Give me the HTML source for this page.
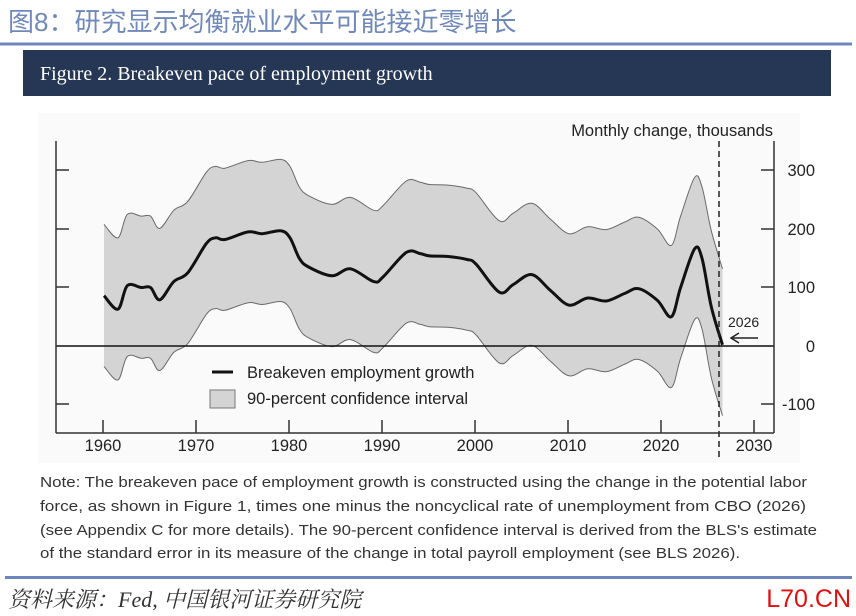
<!DOCTYPE html>
<html><head><meta charset="utf-8"><style>
html,body{margin:0;padding:0;background:#fff;}
body{width:856px;height:616px;overflow:hidden;position:relative;}
</style></head><body>
<svg id="s" width="856" height="616" viewBox="0 0 856 616" xmlns="http://www.w3.org/2000/svg" style="position:absolute;left:0;top:0">
<text x="8" y="31" font-family="'Liberation Sans','Noto Sans CJK SC',sans-serif" font-size="26" fill="#7089bb">图8：研究显示均衡就业水平可能接近零增长</text>
<rect x="0" y="42.5" width="852" height="3" fill="#6d86bd"/>
<rect x="23" y="50" width="808" height="46" fill="#253754"/>
<text x="40" y="80" font-family="'Liberation Serif',serif" font-size="20" fill="#fff">Figure 2. Breakeven pace of employment growth</text>
<rect x="38" y="113" width="762" height="350" fill="#fafafa"/>
<path id="band" fill="#d4d4d4" stroke="none"/>
<path id="up" fill="none" stroke="#6a6a6a" stroke-width="1"/>
<path id="lo" fill="none" stroke="#6a6a6a" stroke-width="1"/>
<line x1="56" y1="346" x2="774" y2="346" stroke="#111" stroke-width="1.5"/>
<path id="mid" fill="none" stroke="#111" stroke-width="3"/>
<line x1="719" y1="141" x2="719" y2="458" stroke="#222" stroke-width="1.5" stroke-dasharray="6,4"/>
<g stroke="#333" stroke-width="1.5">
<line x1="56" y1="141" x2="56" y2="433"/>
<line x1="774" y1="141" x2="774" y2="433"/>
<line x1="56" y1="433" x2="774" y2="433"/>
<line x1="56" y1="170" x2="69" y2="170"/><line x1="56" y1="229" x2="69" y2="229"/><line x1="56" y1="287" x2="69" y2="287"/><line x1="56" y1="404" x2="69" y2="404"/>
<line x1="761" y1="170" x2="774" y2="170"/><line x1="761" y1="229" x2="774" y2="229"/><line x1="761" y1="287" x2="774" y2="287"/><line x1="761" y1="346" x2="774" y2="346"/><line x1="761" y1="404" x2="774" y2="404"/>
<line x1="103" y1="420" x2="103" y2="433"/><line x1="196" y1="420" x2="196" y2="433"/><line x1="289" y1="420" x2="289" y2="433"/><line x1="382" y1="420" x2="382" y2="433"/><line x1="475" y1="420" x2="475" y2="433"/><line x1="568" y1="420" x2="568" y2="433"/><line x1="661" y1="420" x2="661" y2="433"/><line x1="754" y1="420" x2="754" y2="433"/>
</g>
<g font-family="'Liberation Sans',sans-serif" font-size="16.5" fill="#222">
<text x="103" y="451" text-anchor="middle">1960</text><text x="196" y="451" text-anchor="middle">1970</text><text x="289" y="451" text-anchor="middle">1980</text><text x="382" y="451" text-anchor="middle">1990</text><text x="475" y="451" text-anchor="middle">2000</text><text x="568" y="451" text-anchor="middle">2010</text><text x="661" y="451" text-anchor="middle">2020</text><text x="754" y="451" text-anchor="middle">2030</text>
<text x="815" y="176" text-anchor="end">300</text><text x="815" y="235" text-anchor="end">200</text><text x="815" y="293" text-anchor="end">100</text><text x="815" y="352" text-anchor="end">0</text><text x="815" y="410" text-anchor="end">-100</text>
<text x="773" y="136" text-anchor="end">Monthly change, thousands</text>
<text x="247" y="378">Breakeven employment growth</text>
<text x="247" y="404">90-percent confidence interval</text>
<text x="728" y="327" font-size="14">2026</text>
</g>
<line x1="212" y1="372" x2="233" y2="372" stroke="#111" stroke-width="3"/>
<rect x="210" y="390" width="25" height="18" fill="#d4d4d4" stroke="#777" stroke-width="1"/>
<line x1="731" y1="338" x2="758" y2="338" stroke="#222" stroke-width="1.5"/>
<polyline points="739,333 731,338 739,343" fill="none" stroke="#222" stroke-width="1.5"/>
<g font-family="'Liberation Sans',sans-serif" font-size="15" fill="#333">
<text x="40" y="487" textLength="767" lengthAdjust="spacingAndGlyphs">Note: The breakeven pace of employment growth is constructed using the change in the potential labor</text>
<text x="40" y="511" textLength="766" lengthAdjust="spacingAndGlyphs">force, as shown in Figure 1, times one minus the noncyclical rate of unemployment from CBO (2026)</text>
<text x="40" y="535" textLength="777" lengthAdjust="spacingAndGlyphs">(see Appendix C for more details). The 90-percent confidence interval is derived from the BLS's estimate</text>
<text x="40" y="558" textLength="700" lengthAdjust="spacingAndGlyphs">of the standard error in its measure of the change in total payroll employment (see BLS 2026).</text>
</g>
<rect x="5" y="576" width="847" height="3" fill="#6d86bd"/>
<text x="8" y="607" font-family="'Liberation Serif','Noto Serif CJK SC',serif" font-style="italic" font-size="22" fill="#333">资料来源：Fed,  中国银河证券研究院</text>
<text x="851" y="607" text-anchor="end" font-family="'Liberation Sans',sans-serif" font-size="25" fill="#e01010">L70.CN</text>
</svg>
<script>
var d=[[1960,86],[1961.5,63],[1962.5,103],[1964,100],[1965,100],[1966,79],[1967.5,110],[1969,125],[1971,175],[1972,185],[1973,182],[1975.5,195],[1977,192],[1979,197],[1980,185],[1981,150],[1982,135],[1984.5,120],[1986.5,132],[1989,110],[1990,118],[1992.5,160],[1994,158],[1995,154],[1997,153],[1999,148],[2000,140],[2002.5,92],[2004,105],[2006,122],[2008,95],[2010,70],[2012,82],[2014,77],[2016,90],[2017.5,98],[2019.5,78],[2021,50],[2022,100],[2023.5,166],[2024.3,150],[2025.3,70],[2026.5,5]];
function X(y){return 104+9.3*(y-1960);}function Y(v){return 346-0.585*v;}
function pts(off){return d.map(function(p){var o=off;if(p[0]>2025)o=off>0?off+5:off-3;return [X(p[0]),Y(p[1]+o)];});}
function path(P,move){var s=(move?"M":"L")+P[0][0].toFixed(1)+","+P[0][1].toFixed(1);for(var i=0;i<P.length-1;i++){var p0=P[i-1]||P[i],p1=P[i],p2=P[i+1],p3=P[i+2]||p2;s+="C"+(p1[0]+(p2[0]-p0[0])/6).toFixed(1)+","+(p1[1]+(p2[1]-p0[1])/6).toFixed(1)+" "+(p2[0]-(p3[0]-p1[0])/6).toFixed(1)+","+(p2[1]-(p3[1]-p1[1])/6).toFixed(1)+" "+p2[0].toFixed(1)+","+p2[1].toFixed(1);}return s;}
var U=pts(122),L=pts(-121),M=pts(0);
document.getElementById("mid").setAttribute("d",path(M,true));
document.getElementById("up").setAttribute("d",path(U,true));
document.getElementById("lo").setAttribute("d",path(L,true));
document.getElementById("band").setAttribute("d",path(U,true)+path(L.slice().reverse(),false)+"Z");
</script>
</body></html>
